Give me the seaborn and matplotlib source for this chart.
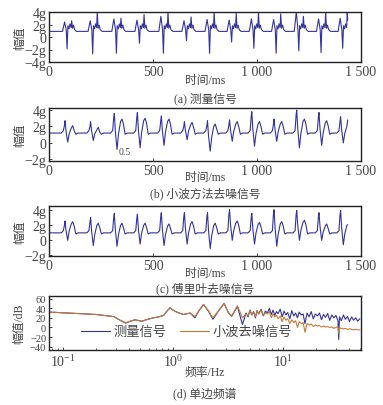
import numpy as np
import pandas as pd
import matplotlib
matplotlib.use("Agg")
import matplotlib.pyplot as plt
import seaborn as sns

# ---- data ----
# beat peak times (ms), shared by the three time-domain panels
beat_t = [77, 200, 314, 425, 540, 651, 762, 868, 975, 1082, 1191, 1298, 1402]
t_end = 1436

# (a) measured signal (units of g)
a_base = 0.9
a_pk = [2.4, 2.6, 2.9, 2.7, 3.3, 2.6, 2.8, 2.7, 2.9, 2.8, 4.0, 2.9, 3.0]
a_dip = [-1.9, -2.7, -2.6, -1.0, -2.6, -0.6, -2.6, -0.8, -1.8, -2.6, -2.2, -2.5, -1.8]
a_hump = [2.6, 4.0, 3.0, 3.6, 4.0, 3.2, 4.0, 3.8, 4.0, 3.7, 3.3, 4.0, 4.0]
a_end = 2.7

# (b) wavelet denoised
b_base = 1.2
b_pk = [2.7, 2.6, 3.6, 3.7, 3.3, 2.6, 2.7, 2.8, 3.8, 2.9, 4.0, 3.7, 3.2]
b_dip = [0.1, 0.3, -0.8, -0.6, -0.3, 0.4, -1.0, 0.2, -0.4, 0.2, -0.6, -0.3, 0.0]
b_hump = [2.1, 1.9, 2.9, 3.0, 2.9, 2.5, 2.3, 2.6, 2.6, 2.6, 2.9, 2.7, 2.3]
b_end = 2.8

# (c) Fourier denoised
c_base = 0.9
c_pk = [2.5, 3.0, 3.5, 3.4, 3.6, 3.6, 3.6, 4.0, 3.5, 4.0, 3.9, 3.6, 3.9]
c_dip = [-0.1, -0.8, -0.9, -0.6, -0.8, -0.6, -1.2, -0.1, -0.6, -0.9, -0.1, -0.1, -0.7]
c_hump = [2.4, 2.2, 2.2, 2.2, 2.1, 2.4, 2.2, 2.5, 2.3, 2.4, 2.6, 2.1, 2.2]
c_end = 2.0

# (d) single-sided spectrum (Hz, dB)
f_lo = [0.075, 0.1, 0.15, 0.2, 0.29, 0.33, 0.37, 0.41, 0.45, 0.52, 0.59, 0.66, 0.74, 0.82,
        0.88, 0.94, 1.0, 1.08, 1.24, 1.43, 1.58, 1.72, 1.89, 2.1, 2.3, 2.58, 2.91, 3.18,
        3.41, 3.84, 4.27]
w_lo = [32, 30.5, 28.5, 27, 22.5, 15, 10, 13, 15.5, 13, 17, 20, 22, 25,
        34, 41, 36, 32, 27, 30, 22.5, 35, 48, 34, 20, 34, 50, 31,
        24, 45, 20]
m_lo = [32, 30.5, 28.5, 27, 22.5, 15, 9, 13, 16, 13, 17, 20, 22, 25,
        34, 41, 36, 32, 27, 30, 20, 35, 48, 34, 17, 34, 50, 31,
        23, 44, 6]
f_hi = [4.6, 4.8, 5.0, 5.2, 5.4, 5.6, 5.8, 6.0, 6.3, 6.6,
        6.9, 7.2, 7.5, 7.8, 8.1, 8.4, 8.7, 9.0, 9.4, 9.8,
        10.2, 10.6, 11.0, 11.5, 12.0, 12.5, 13.0, 13.5, 14.0, 14.6,
        15.2, 15.8, 16.5, 17.2, 18.0, 18.8, 19.6, 20.5, 21.4, 22.3,
        23.3, 24.3, 25.4, 26.5, 27.7, 28.9, 30.2, 31.5, 32.0, 32.5,
        33.8, 35.3, 36.8, 38.4, 40.1, 41.9, 43.7, 45.6, 47.6, 49.7]
m_hi = [30, 22, 36, 26, 33, 20, 35, 28, 38, 24,
        34, 30, 40, 27, 36, 25, 33, 29, 38, 22,
        34, 26, 31, 18, 35, 24, 30, 20, 32, 26,
        28, 8, 30, 22, 33, 18, 28, 24, 30, 16,
        27, 21, 29, 15, 26, 20, 25, 14, -25, 22,
        14, 26, 17, 23, 12, 22, 15, 20, 13, 18]
w_hi = [28, 24, 35, 27, 32, 22, 34, 29, 36, 25,
        30, 28, 33, 20, 28, 22, 25, 18, 24, 12,
        22, 15, 18, 8, 16, 10, 14, 0, 12, 8,
        10, -10, 8, 5, 7, 2, 5, 3, 4, 1,
        3, 1, 2, 0, 1, -2, 0, 2, -12, -1,
        -2, -3, -2, -4, -3, -4, -5, -4, -5, -5]

BLUE = "#33339c"
ORANGE = "#c87a35"
GRAY = "#444444"


def build(base, offs, rows, end_val):
    t, v = [0.0], [base]
    for t0, row in zip(beat_t, rows):
        for o, val in zip(offs, row):
            if t0 + o < t_end:
                t.append(t0 + o)
                v.append(val)
    t.append(t_end)
    v.append(end_val)
    return pd.DataFrame({"t": t, "v": v})


# knot offsets (ms) of one beat
smooth_offs = [-18, -8, -3, 0, 5, 13, 20, 30, 37, 44, 52, 62]
sharp_offs = [-12, -2, 6, 10, 14, 19, 24, 29, 32, 36, 41, 46, 55]


def smooth_rows(base, pk, dip, hump):
    return [[base, base + 0.3, pk - 0.6, pk, (pk + dip) / 2, dip, (dip + hump) / 2,
             hump - 0.3, hump, hump - 0.6, base - 0.15, base]
            for pk, dip, hump in zip(pk, dip, hump)]


a_rows = [[a_base, p, 1.1, d, 1.8, 1.3, 2.1, 1.5, h, 1.4, 1.9, 1.2, a_base]
          for p, d, h in zip(a_pk, a_dip, a_hump)]
sig_a = build(a_base, sharp_offs, a_rows, a_end)
sig_b = build(b_base, smooth_offs, smooth_rows(b_base, b_pk, b_dip, b_hump), b_end)
sig_c = build(c_base, smooth_offs, smooth_rows(c_base, c_pk, c_dip, c_hump), c_end)

spec = pd.DataFrame({
    "f": f_lo + f_hi + f_lo + f_hi,
    "db": m_lo + m_hi + w_lo + w_hi,
    "sig": ["测量信号"] * (len(f_lo) + len(f_hi)) + ["小波去噪信号"] * (len(f_lo) + len(f_hi)),
})

# ---- plotting ----
sns.set_theme(style="ticks")
plt.rcParams["font.family"] = ["Liberation Serif", "Noto Sans CJK SC"]
plt.rcParams["mathtext.fontset"] = "stix"
plt.rcParams["axes.unicode_minus"] = True

fig = plt.figure(figsize=(3.83, 4.06), dpi=100)
W, H = 383.0, 406.0


def add_ax(top, bottom, left=49, right=361):
    return fig.add_axes([left / W, 1 - bottom / H, (right - left) / W, (bottom - top) / H])


def style(ax):
    for s in ax.spines.values():
        s.set_linewidth(1.0)
        s.set_color("#222222")
    ax.tick_params(direction="in", length=2.5, width=0.6, labelsize=10,
                   pad=2, labelcolor=GRAY, top=False, right=False)
    ax.set_xlabel("")
    ax.set_ylabel("")


cjk = dict(fontsize=8.5, color=GRAY, ha="center", va="center")
time_ticks = [0, 500, 1000, 1500]
time_labels = ["0", "500", "1 000", "1 500"]

panels = [
    (sig_a, 13, 63, (-4, 4), [-4, -2, 0, 2, 4], 81, 99, "(a) 测量信号"),
    (sig_b, 109, 162, (-2.2, 4.25), [-2, 0, 2, 4], 178, 194, "(b) 小波方法去噪信号"),
    (sig_c, 207, 257, (-2.2, 4.5), [-2, 0, 2, 4], 274, 289, "(c) 傅里叶去噪信号"),
]
for df, top, bot, ylim, yt, ylab_y, cap_y, cap in panels:
    ax = add_ax(top, bot)
    sns.lineplot(data=df, x="t", y="v", ax=ax, color=BLUE, lw=0.8,
                 estimator=None, sort=False)
    ax.set_xlim(0, 1500)
    ax.set_ylim(*ylim)
    ax.set_xticks(time_ticks)
    ax.set_xticklabels(time_labels)
    ax.set_yticks(yt)
    ax.set_yticklabels([("\u2212" if v < 0 else "") + (f"{abs(v)}g" if v else "0") for v in yt])
    style(ax)
    if cap.startswith("(b)"):
        ax.text(333, -1.05, "0.5", fontsize=7, color=GRAY, va="center")
    fig.text(205 / W, 1 - ylab_y / H, "时间/ms", **cjk)
    fig.text(205 / W, 1 - cap_y / H, cap, **cjk)
    fig.text(20 / W, 1 - (top + bot) / 2 / H, "幅值", rotation=90, **cjk)

axd = add_ax(297, 351)
axd.set_xscale("log")
sns.lineplot(data=spec, x="f", y="db", hue="sig", ax=axd,
             palette={"测量信号": BLUE, "小波去噪信号": ORANGE},
             lw=0.8, estimator=None, sort=False)
axd.set_xlim(0.0746, 51)
axd.set_ylim(-47, 65.5)
axd.set_yticks([-40, -20, 0, 20, 40, 60])
axd.set_yticklabels(["\u221240", "\u221220", "0", "20", "40", "60"])
style(axd)
axd.tick_params(axis="y", labelsize=7.5)
axd.tick_params(which="minor", direction="in", length=1.5, width=0.5, top=False, right=False)
handles, labels = axd.get_legend_handles_labels()
axd.legend(handles, labels, loc="center left", bbox_to_anchor=(0.08, 0.33),
           ncol=2, frameon=False, handlelength=2.2, columnspacing=1.0,
           handletextpad=0.3, borderpad=0, prop={"size": 9.5}, labelcolor=GRAY)
fig.text(205 / W, 1 - 373 / H, "频率/Hz", **cjk)
fig.text(205 / W, 1 - 395 / H, "(d) 单边频谱", **cjk)
fig.text(19 / W, 1 - 324 / H, "幅值/dB", rotation=90, **cjk)

fig.savefig("out.png", dpi=100)
